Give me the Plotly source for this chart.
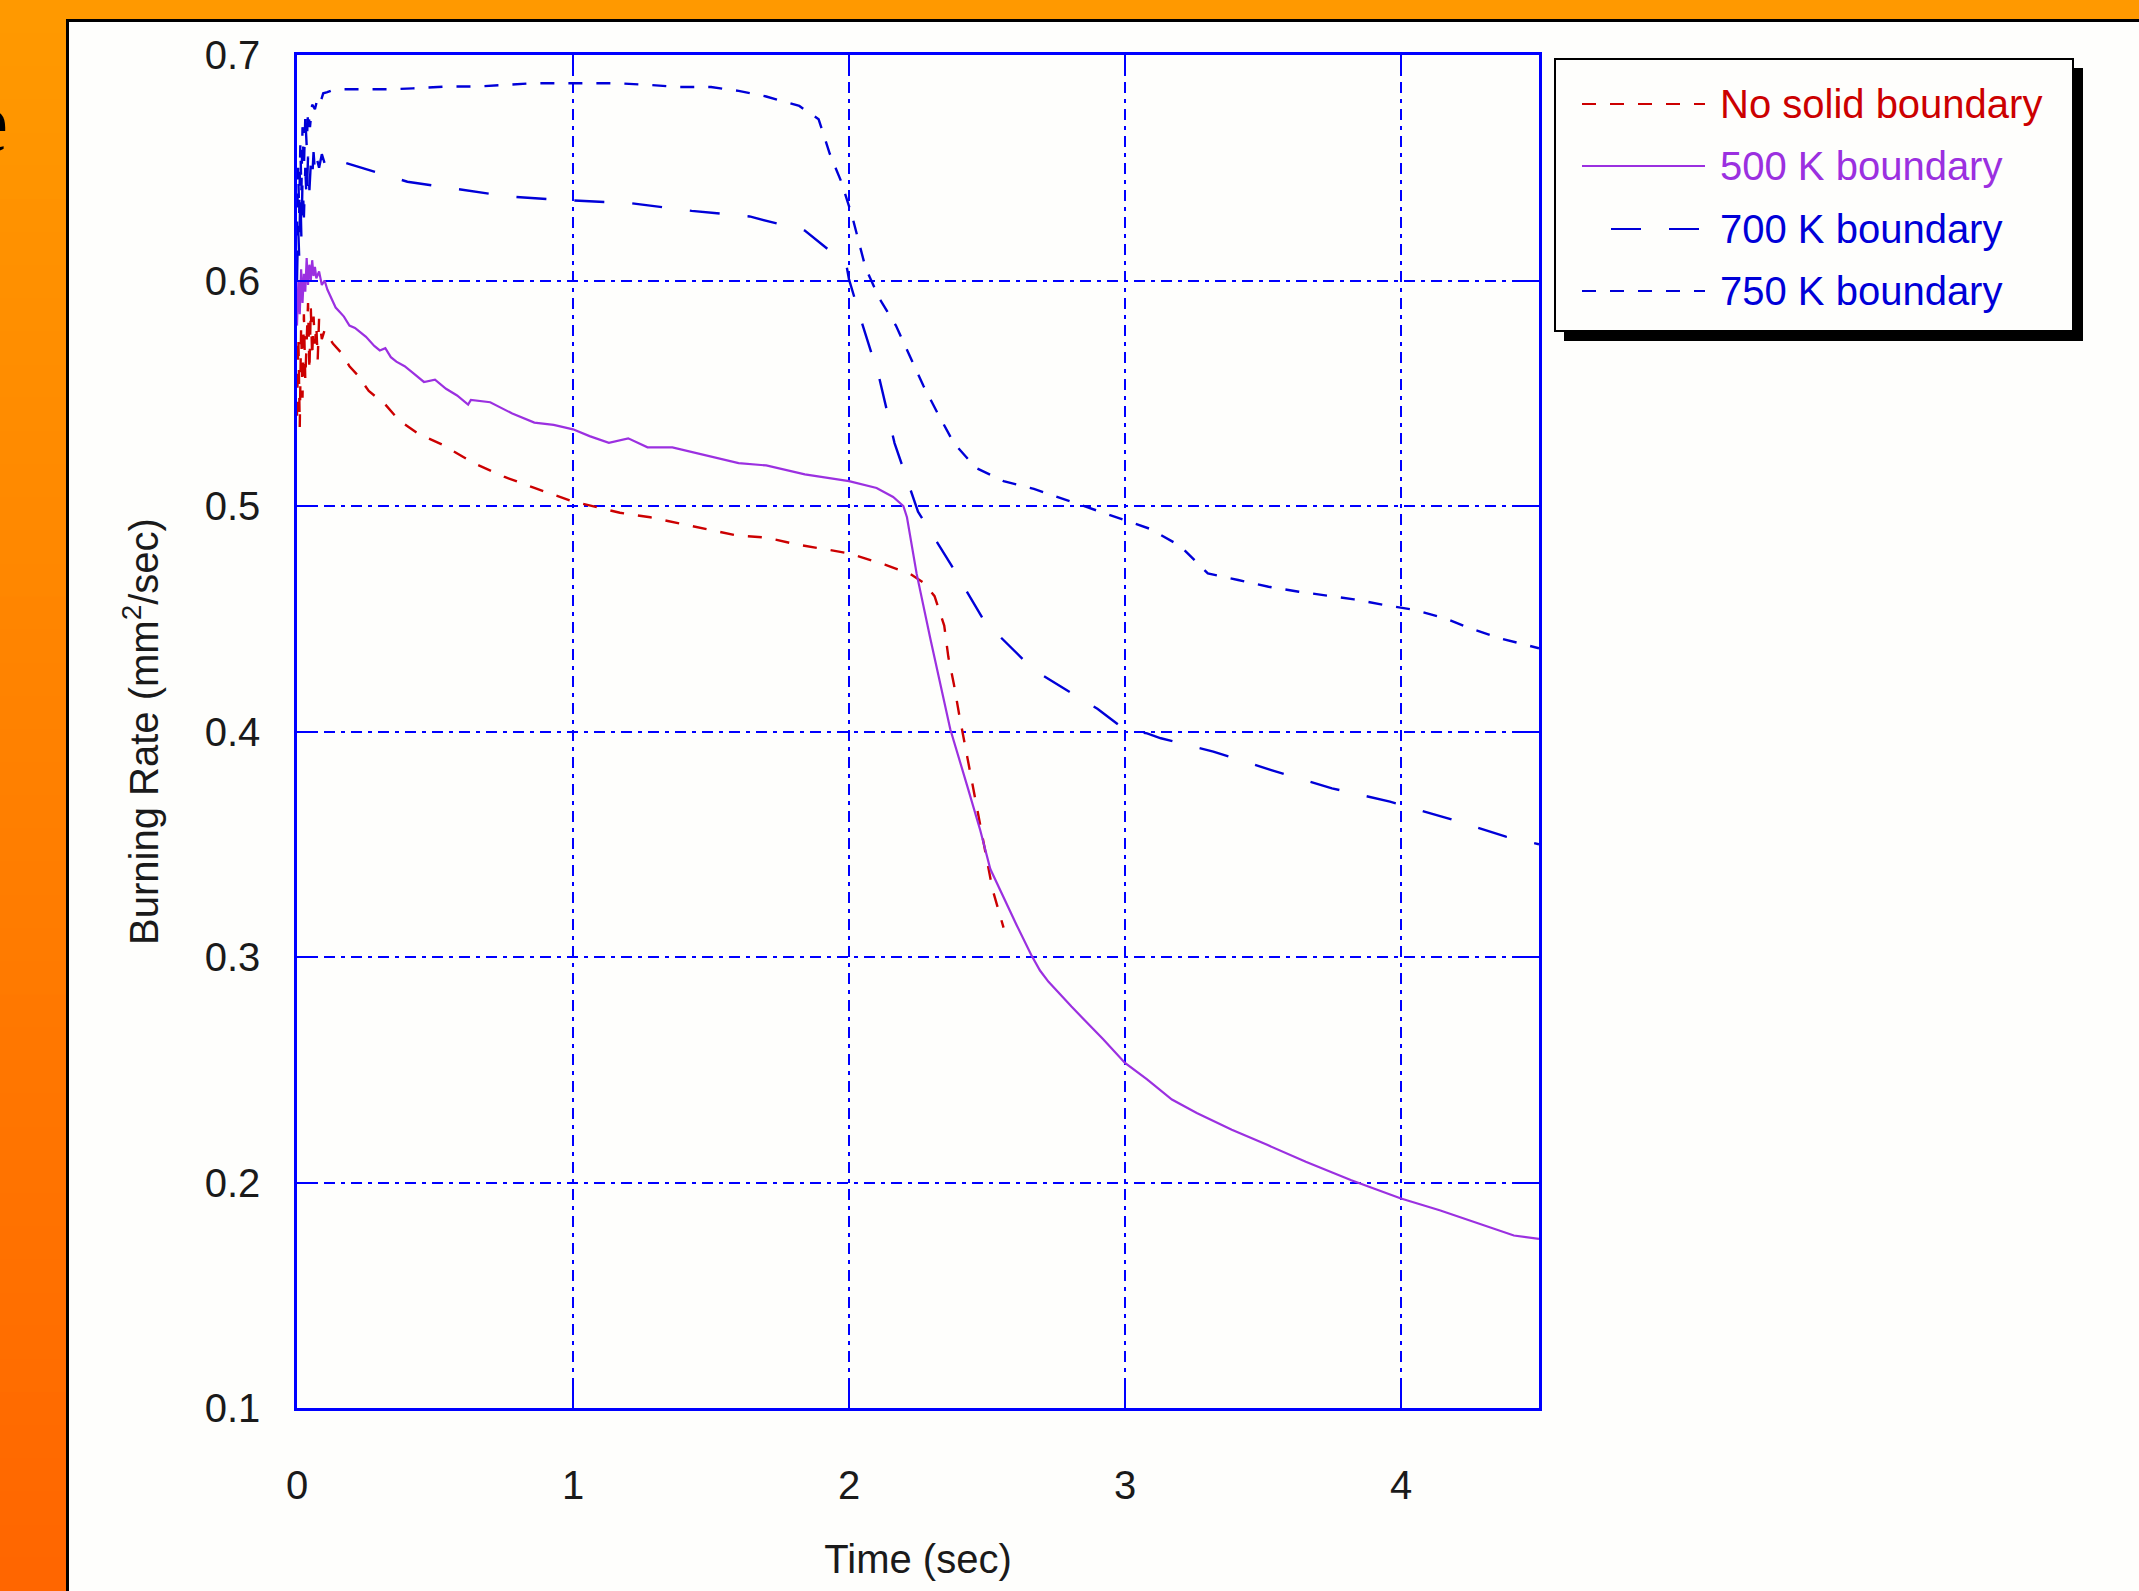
import plotly.graph_objects as go

# ---------------- data ----------------
t_nosolid = [0.000, 0.005, 0.010, 0.015, 0.020, 0.025, 0.030, 0.035, 0.040, 0.045,
             0.050, 0.055, 0.060, 0.065, 0.070, 0.075, 0.080, 0.090, 0.100, 0.130,
             0.160, 0.190, 0.220, 0.260, 0.320, 0.370, 0.440, 0.530, 0.640, 0.750,
             0.860, 1.000, 1.170, 1.280, 1.470, 1.590, 1.700, 1.810, 2.000, 2.130,
             2.220, 2.270, 2.310, 2.345, 2.360, 2.380, 2.400, 2.420, 2.440, 2.460,
             2.480, 2.520, 2.560]
v_nosolid = [0.540, 0.575, 0.535, 0.580, 0.548, 0.585, 0.556, 0.572, 0.590, 0.560,
             0.588, 0.566, 0.584, 0.572, 0.580, 0.565, 0.583, 0.574, 0.578, 0.572,
             0.568, 0.562, 0.558, 0.551, 0.545, 0.538, 0.532, 0.527, 0.519, 0.513,
             0.508, 0.502, 0.497, 0.495, 0.490, 0.487, 0.486, 0.483, 0.479, 0.474,
             0.470, 0.466, 0.460, 0.447, 0.433, 0.421, 0.407, 0.394, 0.382, 0.368,
             0.356, 0.330, 0.313]

t_500 = [0.000, 0.005, 0.010, 0.015, 0.020, 0.025, 0.030, 0.035, 0.040, 0.045,
         0.050, 0.055, 0.060, 0.065, 0.070, 0.080, 0.090, 0.100, 0.110, 0.125,
         0.140, 0.155, 0.170, 0.190, 0.210, 0.230, 0.250, 0.280, 0.300, 0.320,
         0.340, 0.360, 0.390, 0.420, 0.460, 0.500, 0.540, 0.580, 0.620, 0.630,
         0.700, 0.780, 0.860, 0.930, 1.000, 1.060, 1.130, 1.200, 1.270, 1.360,
         1.500, 1.600, 1.700, 1.840, 2.000, 2.100, 2.160, 2.197, 2.210, 2.245,
         2.295, 2.367, 2.428, 2.476, 2.512, 2.550, 2.608, 2.660, 2.692, 2.723,
         2.806, 2.921, 3.000, 3.080, 3.170, 3.260, 3.387, 3.515, 3.655, 3.820,
         4.000, 4.140, 4.306, 4.409, 4.500]
v_500 = [0.580, 0.600, 0.585, 0.605, 0.590, 0.603, 0.595, 0.610, 0.598, 0.607,
         0.600, 0.609, 0.602, 0.606, 0.601, 0.604, 0.598, 0.600, 0.596, 0.592,
         0.588, 0.586, 0.584, 0.580, 0.579, 0.577, 0.575, 0.571, 0.569, 0.570,
         0.566, 0.564, 0.562, 0.559, 0.555, 0.556, 0.552, 0.549, 0.545, 0.547,
         0.546, 0.541, 0.537, 0.536, 0.534, 0.531, 0.528, 0.530, 0.526, 0.526,
         0.522, 0.519, 0.518, 0.514, 0.511, 0.508, 0.504, 0.500, 0.495, 0.470,
         0.441, 0.401, 0.376, 0.356, 0.339, 0.329, 0.314, 0.301, 0.294, 0.289,
         0.278, 0.2635, 0.253, 0.2457, 0.2368, 0.2308, 0.2234, 0.2167, 0.2092, 0.201,
         0.1929, 0.1877, 0.181, 0.1765, 0.175]

t_700 = [0.000, 0.004, 0.008, 0.012, 0.016, 0.020, 0.025, 0.030, 0.035, 0.040,
         0.045, 0.050, 0.055, 0.060, 0.065, 0.070, 0.080, 0.090, 0.100, 0.125,
         0.160, 0.230, 0.320, 0.400, 0.550, 0.770, 0.960, 1.210, 1.430, 1.640,
         1.840, 1.990, 2.000, 2.050, 2.110, 2.165, 2.250, 2.370, 2.490, 2.670,
         2.900, 3.000, 3.080, 3.130, 3.320, 3.530, 3.750, 3.960, 4.170, 4.380,
         4.500]
v_700 = [0.600, 0.625, 0.610, 0.640, 0.618, 0.645, 0.628, 0.650, 0.635, 0.655,
         0.640, 0.652, 0.645, 0.657, 0.648, 0.655, 0.650, 0.656, 0.652, 0.6556,
         0.6527, 0.650, 0.6468, 0.6438, 0.641, 0.6372, 0.6357, 0.6343, 0.6309, 0.6284,
         0.6221, 0.6073, 0.6005, 0.580, 0.5566, 0.5279, 0.4975, 0.4739, 0.449, 0.4272,
         0.4101, 0.4008, 0.3992, 0.397, 0.3911, 0.3829, 0.3748, 0.3689, 0.3615, 0.3534,
         0.350]

t_750 = [0.000, 0.004, 0.008, 0.012, 0.016, 0.020, 0.025, 0.030, 0.035, 0.040,
         0.047, 0.055, 0.065, 0.075, 0.085, 0.095, 0.110, 0.130, 0.160, 0.190,
         0.250, 0.340, 0.420, 0.540, 0.650, 0.750, 0.860, 1.040, 1.160, 1.280,
         1.380, 1.500, 1.600, 1.700, 1.820, 1.890, 1.930, 1.970, 2.010, 2.060,
         2.110, 2.170, 2.220, 2.270, 2.320, 2.380, 2.460, 2.560, 2.670, 2.770,
         2.890, 2.990, 3.090, 3.200, 3.300, 3.410, 3.520, 3.630, 3.730, 3.830,
         3.940, 4.050, 4.160, 4.250, 4.360, 4.500]
v_750 = [0.620, 0.650, 0.630, 0.660, 0.640, 0.668, 0.650, 0.672, 0.660, 0.675,
         0.668, 0.678, 0.676, 0.681, 0.679, 0.683, 0.6835, 0.6845, 0.6848, 0.6848,
         0.6845, 0.6848, 0.6852, 0.686, 0.686, 0.6867, 0.6875, 0.6875, 0.6875, 0.6867,
         0.6858, 0.6858, 0.6841, 0.6816, 0.6774, 0.6715, 0.6563, 0.6444, 0.6292, 0.6056,
         0.592, 0.580, 0.5667, 0.5532, 0.5414, 0.5279, 0.5169, 0.511, 0.5076, 0.5034,
         0.4983, 0.494, 0.4899, 0.4823, 0.4701, 0.4672, 0.4642, 0.462, 0.4602, 0.4586,
         0.4561, 0.4539, 0.4502, 0.4458, 0.4413, 0.4369]

series_names = ["No solid boundary", "500 K boundary", "700 K boundary", "750 K boundary"]
x_ticks = [0, 1, 2, 3, 4]
x_tick_labels = ["0", "1", "2", "3", "4"]
y_ticks = [0.1, 0.2, 0.3, 0.4, 0.5, 0.6, 0.7]
y_tick_labels = ["0.1", "0.2", "0.3", "0.4", "0.5", "0.6", "0.7"]

# ---------------- styling ----------------
W, H = 2139, 1591
L, R, T, B = 297, 1539, 55, 1408          # plot area in pixels
FONT = "Liberation Sans, Arial, sans-serif"
RED, PURPLE, BLUE, FRAME = "#cc0000", "#9b30e0", "#0000d8", "#0000ff"
SHORT = "14px,14px"
LONG = "30px,28px"


def px(p):
    return (p - L) / (R - L)


def py(p):
    return (B - p) / (B - T)


fig = go.Figure()
fig.add_trace(go.Scatter(x=t_nosolid, y=v_nosolid, name=series_names[0], mode="lines",
                         line=dict(color=RED, width=2.4, dash=SHORT)))
fig.add_trace(go.Scatter(x=t_500, y=v_500, name=series_names[1], mode="lines",
                         line=dict(color=PURPLE, width=2.2)))
fig.add_trace(go.Scatter(x=t_700, y=v_700, name=series_names[2], mode="lines",
                         line=dict(color=BLUE, width=2.4, dash=LONG)))
fig.add_trace(go.Scatter(x=t_750, y=v_750, name=series_names[3], mode="lines",
                         line=dict(color=BLUE, width=2.4, dash=SHORT)))

shapes = []
# top orange band
shapes.append(dict(type="rect", xref="paper", yref="paper", layer="below",
                   x0=px(0), x1=px(W), y0=py(0), y1=py(20),
                   fillcolor="#ff9900", line=dict(width=0)))
# left orange gradient band
n = 48
for i in range(n):
    f = i / (n - 1)
    g = int(round(153 - (153 - 102) * f))
    shapes.append(dict(type="rect", xref="paper", yref="paper", layer="below",
                       x0=px(0), x1=px(67), y0=py(H * i / n), y1=py(H * (i + 1) / n + 1),
                       fillcolor=f"rgb(255,{g},0)", line=dict(width=0)))
# black separators
shapes.append(dict(type="line", xref="paper", yref="paper", layer="below",
                   x0=px(67.5), x1=px(67.5), y0=py(19), y1=py(H),
                   line=dict(color="black", width=3)))
shapes.append(dict(type="line", xref="paper", yref="paper", layer="below",
                   x0=px(66), x1=px(W), y0=py(20.5), y1=py(20.5),
                   line=dict(color="black", width=3)))

# manual legend box with shadow
shapes.append(dict(type="rect", xref="paper", yref="paper",
                   x0=px(1564), x1=px(2083), y0=py(68), y1=py(341),
                   fillcolor="black", line=dict(width=0)))
shapes.append(dict(type="rect", xref="paper", yref="paper",
                   x0=px(1555), x1=px(2073), y0=py(59), y1=py(331),
                   fillcolor="#fefefc", line=dict(color="black", width=2)))
rows = [104, 166, 229, 291]
leg_styles = [(RED, SHORT, 1582), (PURPLE, "solid", 1582), (BLUE, LONG, 1611), (BLUE, SHORT, 1582)]
annotations = []
for name, row, (col, dash, xs) in zip(series_names, rows, leg_styles):
    shapes.append(dict(type="line", xref="paper", yref="paper",
                       x0=px(xs), x1=px(1705), y0=py(row), y1=py(row),
                       line=dict(color=col, width=2.2, dash=dash)))
    annotations.append(dict(xref="paper", yref="paper", x=px(1718), y=py(row),
                            xanchor="left", yanchor="middle", showarrow=False,
                            text=name, font=dict(family=FONT, size=40, color=col)))

# cut-off slide letter at the very left (partly hidden, as in the reference)
annotations.append(dict(xref="paper", yref="paper", x=px(10), y=py(122),
                        xanchor="right", yanchor="middle", showarrow=False,
                        text="e", font=dict(family="Liberation Serif, Times New Roman, serif",
                                            size=86, color="black")))

axis_common = dict(showline=True, linecolor=FRAME, linewidth=2.5, mirror="ticks",
                   ticks="inside", ticklen=20, tickwidth=2, tickcolor=FRAME,
                   showgrid=True, gridcolor=FRAME, gridwidth=2, griddash="11px,6px,4px,6px",
                   zeroline=False, tickfont=dict(family=FONT, size=40, color="#1a1a1a"))

fig.update_layout(
    width=W, height=H, autosize=False,
    margin=dict(l=L, r=W - R, t=T, b=H - B, pad=0),
    paper_bgcolor="#fefefc", plot_bgcolor="#fefefc",
    showlegend=False,
    shapes=shapes, annotations=annotations,
    xaxis=dict(range=[0, 4.5], tickvals=x_ticks, ticktext=x_tick_labels,
               ticklabelstandoff=40,
               title=dict(text="Time (sec)", standoff=40,
                          font=dict(family=FONT, size=40, color="#1a1a1a")),
               **axis_common),
    yaxis=dict(range=[0.1, 0.7], tickvals=y_ticks, ticktext=y_tick_labels,
               ticklabelstandoff=26,
               title=dict(text="Burning Rate (mm<sup>2</sup>/sec)", standoff=34,
                          font=dict(family=FONT, size=40, color="#1a1a1a")),
               **axis_common),
)

fig.write_html("out.html", config={"displayModeBar": False},
               post_script="document.body.style.margin='0';document.body.style.overflow='hidden';")
